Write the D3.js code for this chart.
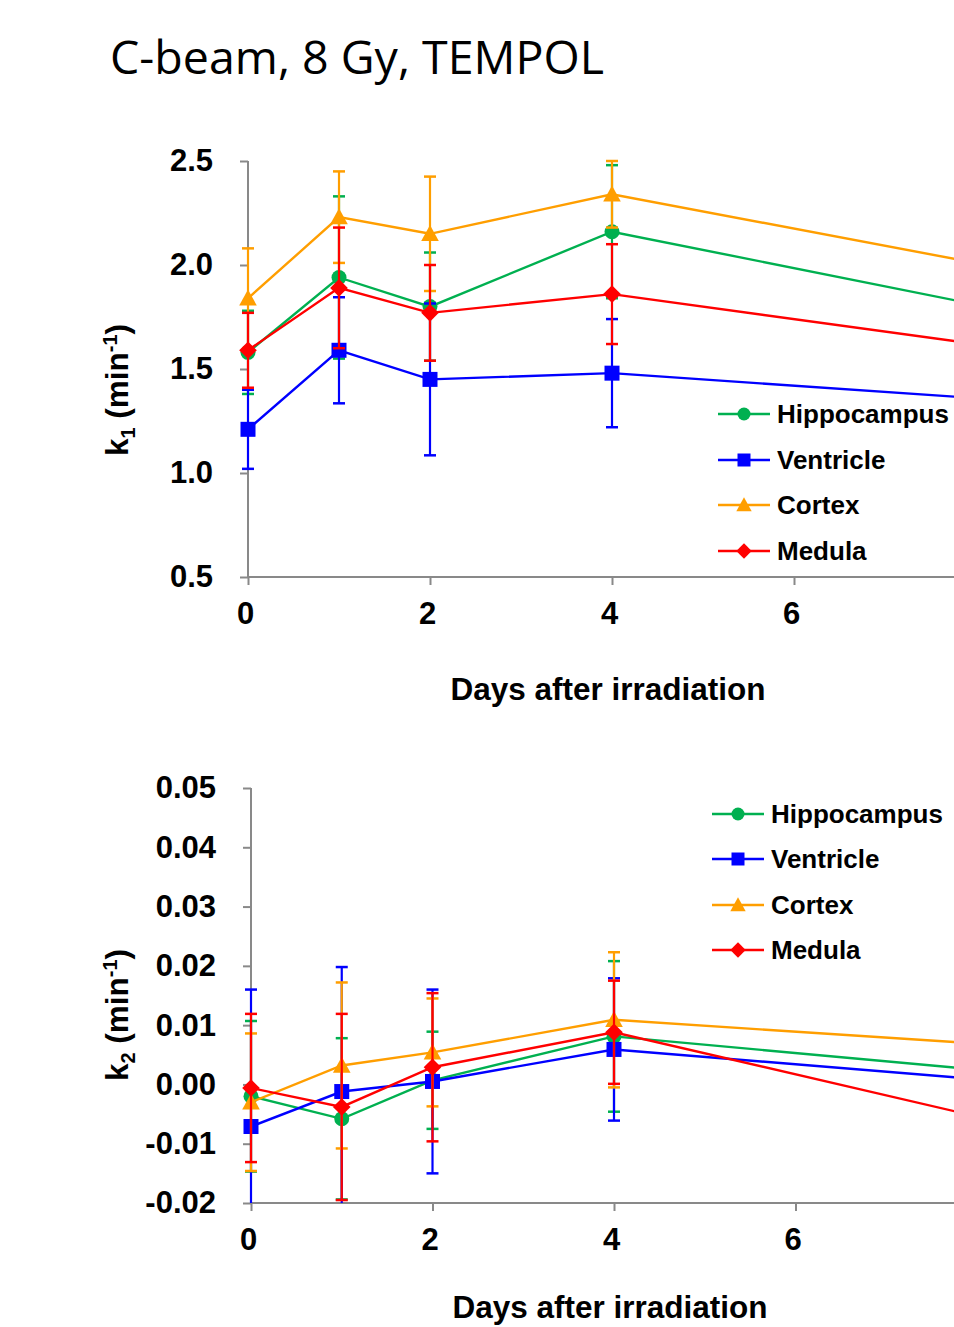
<!DOCTYPE html>
<html>
<head>
<meta charset="utf-8">
<script src="https://cdn.jsdelivr.net/npm/d3@7"></script>
<style>
  body { margin: 0; background: #fff; }
  svg { display: block; }
  .tick-lbl { font-family: "Liberation Sans", Arial, sans-serif; font-weight: bold; font-size: 31px; fill: #000; }
  .axis-lbl { font-family: "Liberation Sans", Arial, sans-serif; font-weight: bold; font-size: 31.5px; fill: #000; }
  .leg-lbl { font-family: "Liberation Sans", Arial, sans-serif; font-weight: bold; font-size: 26px; fill: #000; }
</style>
</head>
<body>
<div id="chart"></div>
<script>
// page size
var svgWidth = 954;
var svgHeight = 1327;

// x values (days after irradiation)
var days = [0, 1, 2, 4, 8];
var seriesNames = ["Hippocampus", "Ventricle", "Cortex", "Medula"];
var seriesColors = ["#00B050", "#0000FF", "#FF9E00", "#FF0000"];
var seriesShapes = ["circle", "square", "triangle", "diamond"];

// k1 (min-1) means and error bars
var k1Hippocampus = [1.58, 1.94, 1.80, 2.16, 1.81];
var k1Ventricle   = [1.21, 1.59, 1.45, 1.48, 1.36];
var k1Cortex      = [1.84, 2.23, 2.15, 2.34, 2.01];
var k1Medula      = [1.59, 1.89, 1.77, 1.86, 1.62];
var k1ErrHippocampus = [0.20, 0.39, 0.26, 0.32, 0.30];
var k1ErrVentricle   = [0.19, 0.255, 0.365, 0.26, 0.30];
var k1ErrCortex      = [0.24, 0.22, 0.275, 0.16, 0.30];
var k1ErrMedula      = [0.18, 0.29, 0.23, 0.24, 0.30];

// k2 (min-1) means and error bars
var k2Hippocampus = [-0.0020, -0.0058, 0.0007, 0.0081, 0.0025];
var k2Ventricle   = [-0.0071, -0.0012, 0.0005, 0.0059, 0.0009];
var k2Cortex      = [-0.0030, 0.0032, 0.0054, 0.0109, 0.0069];
var k2Medula      = [-0.0006, -0.0038, 0.0029, 0.0088, -0.0054];
var k2ErrHippocampus = [0.0127, 0.0136, 0.0082, 0.0127, 0.0100];
var k2ErrVentricle   = [0.0231, 0.0210, 0.0155, 0.0120, 0.0100];
var k2ErrCortex      = [0.0116, 0.0140, 0.0091, 0.0114, 0.0100];
var k2ErrMedula      = [0.0125, 0.0157, 0.0125, 0.0087, 0.0100];

// tick values
var xTicks = [0, 2, 4, 6];
var k1Ticks = [0.5, 1.0, 1.5, 2.0, 2.5];
var k2Ticks = [-0.02, -0.01, 0.00, 0.01, 0.02, 0.03, 0.04, 0.05];

var axisGray = "#898989";

var svg = d3.select("#chart").append("svg")
  .attr("width", svgWidth)
  .attr("height", svgHeight);

// title
svg.append("text")
  .attr("x", 110)
  .attr("y", 74)
  .attr("font-family", "'Open Sans', sans-serif")
  .attr("font-size", 46)
  .attr("textLength", 494)
  .attr("lengthAdjust", "spacingAndGlyphs")
  .text("C-beam, 8 Gy, TEMPOL");

function buildSeries(vals, errs) {
  return seriesNames.map(function(name, i) {
    return {
      name: name,
      color: seriesColors[i],
      shape: seriesShapes[i],
      points: days.map(function(d, j) { return { x: d, y: vals[i][j], e: errs[i][j] }; })
    };
  });
}

function markerPath(shape, s) {
  if (shape === "circle") return d3.symbol(d3.symbolCircle, Math.PI * s * s / 4)();
  if (shape === "square") return "M" + (-s/2) + "," + (-s/2) + "h" + s + "v" + s + "h" + (-s) + "Z";
  if (shape === "triangle") return "M0," + (-s*0.55) + "L" + (s*0.55) + "," + (s*0.45) + "L" + (-s*0.55) + "," + (s*0.45) + "Z";
  return "M0," + (-s*0.55) + "L" + (s*0.55) + ",0L0," + (s*0.55) + "L" + (-s*0.55) + ",0Z";
}

function markerSize(shape) {
  if (shape === "circle") return 15;
  if (shape === "square") return 15;
  if (shape === "triangle") return 16;
  return 16;
}

// hyphen minus like the original, not the typographic one
function hyphenFmt(spec) {
  var f = d3.format(spec);
  return function(v) { return f(v).replace("\u2212", "-"); };
}

function drawPanel(cfg) {
  var x = d3.scaleLinear().domain([0, 8]).range([cfg.x0, cfg.x8]);
  var y = d3.scaleLinear().domain(cfg.yDomain).range([cfg.yBottom, cfg.yTop]);
  var g = svg.append("g");

  // axes
  var yAxis = g.append("g")
    .attr("transform", "translate(" + cfg.x0 + ",0)")
    .call(d3.axisLeft(y).tickValues(cfg.yTicks).tickSize(8).tickFormat(cfg.fmt).tickPadding(27));
  var xAxis = g.append("g")
    .attr("transform", "translate(0," + cfg.yBottom + ")")
    .call(d3.axisBottom(x).tickValues(xTicks).tickSize(8).tickFormat(d3.format("d")).tickPadding(17));
  [xAxis, yAxis].forEach(function(a) {
    a.select(".domain").attr("stroke", axisGray).attr("stroke-width", 2);
    a.selectAll(".tick line").attr("stroke", axisGray).attr("stroke-width", 2);
    a.selectAll(".tick text").attr("class", "tick-lbl").attr("font-family", null).attr("font-size", null).attr("fill", null);
  });
  yAxis.select(".domain").attr("d", "M0," + cfg.yBottom + "V" + cfg.yTop);
  xAxis.select(".domain").attr("d", "M" + cfg.x0 + ",0H" + cfg.x8);
  xAxis.selectAll(".tick text").attr("dx", -3);

  // y axis label with sub/superscript
  var yl = g.append("text")
    .attr("class", "axis-lbl")
    .attr("transform", "translate(" + 128 + "," + cfg.yLabelY + ") rotate(-90)")
    .attr("text-anchor", "middle");
  yl.append("tspan").text("k");
  yl.append("tspan").attr("font-size", 20).attr("dy", 7).text(cfg.sub);
  yl.append("tspan").attr("dy", -7).text(" (min");
  yl.append("tspan").attr("font-size", 20).attr("dy", -11).text("-1");
  yl.append("tspan").attr("dy", 11).text(")");

  // x axis label
  g.append("text")
    .attr("class", "axis-lbl")
    .attr("x", cfg.xLabelX)
    .attr("y", cfg.xLabelY)
    .attr("text-anchor", "middle")
    .text("Days after irradiation");

  // clip for the data region
  var clipId = "clip" + cfg.sub;
  svg.append("clipPath").attr("id", clipId).append("rect")
    .attr("x", 0).attr("y", cfg.yTop - 2)
    .attr("width", svgWidth).attr("height", cfg.yBottom - cfg.yTop + 2);

  var plot = g.append("g").attr("clip-path", "url(#" + clipId + ")");
  var line = d3.line().x(function(d) { return x(d.x); }).y(function(d) { return y(d.y); });

  cfg.series.forEach(function(s) {
    var sg = plot.append("g");
    // error bars
    var eb = sg.selectAll(".eb").data(s.points).enter().append("g");
    eb.append("line")
      .attr("x1", function(d) { return x(d.x); }).attr("x2", function(d) { return x(d.x); })
      .attr("y1", function(d) { return y(d.y - d.e); }).attr("y2", function(d) { return y(d.y + d.e); })
      .attr("stroke", s.color).attr("stroke-width", 2.2);
    [-1, 1].forEach(function(sign) {
      eb.append("line")
        .attr("x1", function(d) { return x(d.x) - 6; }).attr("x2", function(d) { return x(d.x) + 6; })
        .attr("y1", function(d) { return y(d.y + sign * d.e); }).attr("y2", function(d) { return y(d.y + sign * d.e); })
        .attr("stroke", s.color).attr("stroke-width", 2.5);
    });
    // line
    sg.append("path").datum(s.points)
      .attr("d", line).attr("fill", "none")
      .attr("stroke", s.color).attr("stroke-width", 2.4);
    // markers
    sg.selectAll(".mk").data(s.points).enter().append("path")
      .attr("transform", function(d) { return "translate(" + x(d.x) + "," + y(d.y) + ")"; })
      .attr("d", markerPath(s.shape, markerSize(s.shape)))
      .attr("fill", s.color);
  });

  // legend
  var leg = g.append("g");
  cfg.series.forEach(function(s, i) {
    var ly = cfg.legY[i];
    leg.append("line")
      .attr("x1", cfg.legX).attr("x2", cfg.legX + 52)
      .attr("y1", ly).attr("y2", ly)
      .attr("stroke", s.color).attr("stroke-width", 2.4);
    leg.append("path")
      .attr("transform", "translate(" + (cfg.legX + 26) + "," + ly + ")")
      .attr("d", markerPath(s.shape, markerSize(s.shape) - 2))
      .attr("fill", s.color);
    leg.append("text")
      .attr("class", "leg-lbl")
      .attr("x", cfg.legX + 59)
      .attr("y", ly + 9)
      .text(s.name);
  });
}

drawPanel({
  series: buildSeries([k1Hippocampus, k1Ventricle, k1Cortex, k1Medula],
                      [k1ErrHippocampus, k1ErrVentricle, k1ErrCortex, k1ErrMedula]),
  x0: 248, x8: 976,
  yDomain: [0.5, 2.5], yTop: 161, yBottom: 577,
  yTicks: k1Ticks, fmt: hyphenFmt(".1f"),
  sub: "1", yLabelY: 390,
  xLabelX: 608, xLabelY: 700,
  legX: 718, legY: [414, 460, 505, 551]
});

drawPanel({
  series: buildSeries([k2Hippocampus, k2Ventricle, k2Cortex, k2Medula],
                      [k2ErrHippocampus, k2ErrVentricle, k2ErrCortex, k2ErrMedula]),
  x0: 251, x8: 977,
  yDomain: [-0.02, 0.05], yTop: 788, yBottom: 1203,
  yTicks: k2Ticks, fmt: hyphenFmt(".2f"),
  sub: "2", yLabelY: 1015,
  xLabelX: 610, xLabelY: 1318,
  legX: 712, legY: [814, 859, 905, 950]
});
</script>
</body>
</html>
